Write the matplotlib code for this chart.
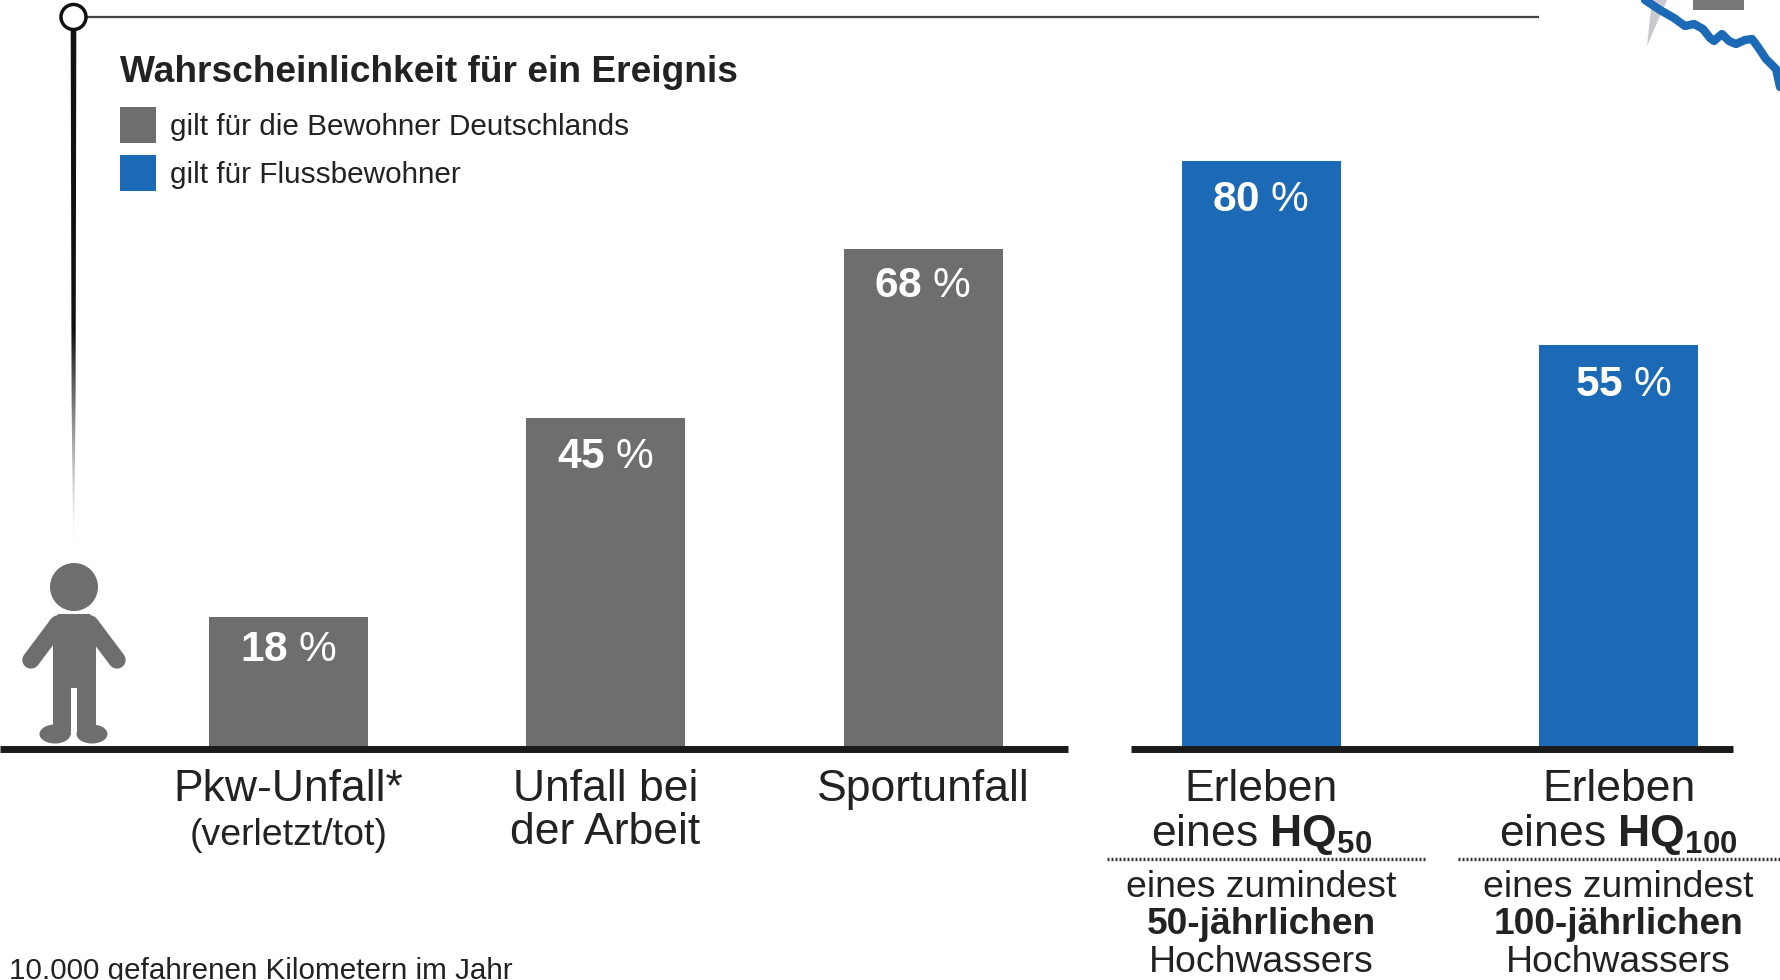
import numpy as np
import matplotlib
matplotlib.use('Agg')
import matplotlib.pyplot as plt
from matplotlib.patches import Circle, Ellipse, Polygon, Rectangle

plt.rcParams['font.family'] = ['Liberation Sans', 'DejaVu Sans']
plt.rcParams['mathtext.fontset'] = 'custom'
plt.rcParams['mathtext.rm'] = 'Liberation Sans'
plt.rcParams['mathtext.bf'] = 'Liberation Sans:bold'
plt.rcParams['mathtext.default'] = 'regular'

# Werte
werte_land = [18, 45, 68]
werte_fluss = [80, 55]
kategorien_land = ['Pkw-Unfall*', 'Unfall bei\nder Arbeit', 'Sportunfall']
kategorien_fluss = ['Erleben\neines $\\mathbf{HQ_{50}}$', 'Erleben\neines $\\mathbf{HQ_{100}}$']
titel = 'Wahrscheinlichkeit für ein Ereignis'
legende = ['gilt für die Bewohner Deutschlands', 'gilt für Flussbewohner']
zusatz = ['eines zumindest', 'Hochwassers']
jahre = ['50-jährlichen', '100-jährlichen']
fussnote = '10.000 gefahrenen Kilometern im Jahr'

GRAU = '#6e6e6e'
BLAU = '#1c6ab5'
SCHWARZ = '#1a1a1a'
TEXT = '#222222'
W, H = 1780, 980

fig = plt.figure(figsize=(W / 100, H / 100), dpi=100)

# Grundebene in Pixeln fuer Symbol, Linien und Texte
bg = fig.add_axes([0, 0, 1, 1], zorder=3)
bg.axis('off')

# Balken in Prozent
BASE = 749
PX_PRO_PROZENT = 7.35
ax = fig.add_axes([0, 1 - BASE / H, 1, BASE / H], zorder=2)
ax.set_xlim(0, W)
ax.set_ylim(0, BASE / PX_PRO_PROZENT)
ax.axis('off')

x_land = [288.5, 605.5, 923]
x_fluss = [1261.5, 1618.5]
BREITE = 159


def balken(xs, werte, farbe, versatz):
    ax.bar(xs, werte, width=BREITE, color=farbe)
    for x, v, (dx, dy) in zip(xs, werte, versatz):
        ax.annotate(f'$\\mathbf{{{v}}}$ %', (x, v), xytext=(dx, dy), textcoords='offset pixels',
                    ha='center', va='center', color='white', fontsize=30.5)


balken(x_land, werte_land, GRAU, [(0, -33), (0, -39), (0, -37)])
balken(x_fluss, werte_fluss, BLAU, [(-1, -39), (5, -40)])

# Stange: schmaler werdender Keil mit Verlauf nach unten
verlauf = np.zeros((256, 1, 4))
verlauf[:, 0, :3] = 0.07
verlauf[:, 0, 3] = np.clip((1 - np.linspace(0, 1, 256)) / 0.42, 0, 1) ** 1.4
stange = bg.imshow(verlauf, extent=[70, 77, 552, 30], aspect='auto', zorder=1)
stange.set_clip_path(Polygon([(70.7, 30), (76.3, 30), (75.6, 400), (74.0, 552), (73.2, 552), (71.6, 400)],
                             closed=True, transform=bg.transData))

bg.set_xlim(0, W)
bg.set_ylim(H, 0)

# Grundlinien
bg.plot([0, 1068], [749, 749], color=SCHWARZ, lw=5, solid_capstyle='butt')
bg.plot([1131, 1733], [749, 749], color=SCHWARZ, lw=5, solid_capstyle='butt')

# Obere Linie mit Ring
bg.plot([80, 1539], [17, 17], color='#444444', lw=1.6, solid_capstyle='butt')
bg.add_patch(Circle((73.5, 17), 12.5, fc='white', ec='#111111', lw=2.5, zorder=3))

# Person
bg.add_patch(Circle((74, 587), 24, fc=GRAU, ec='none'))
bg.add_patch(Polygon([(58, 614), (90, 614), (96, 622), (96, 735), (77, 735), (77, 688), (71, 688),
                      (71, 735), (53, 735), (53, 622)], closed=True, fc=GRAU, ec='none'))
bg.plot([58, 31], [624, 660], color=GRAU, lw=12.5, solid_capstyle='round')
bg.plot([90, 117], [624, 660], color=GRAU, lw=12.5, solid_capstyle='round')
bg.add_patch(Ellipse((55, 734), 31, 19, fc=GRAU, ec='none'))
bg.add_patch(Ellipse((92, 734), 31, 19, fc=GRAU, ec='none'))

# Karte oben rechts
bg.add_patch(Polygon([(1652, 0), (1667, 0), (1647, 46)], closed=True, fc='#c9c9cf', ec='none'))
bg.add_patch(Rectangle((1693, 0), 51, 10, fc='#777777', ec='none'))
fluss_x = [1645, 1660, 1674, 1685, 1694, 1703, 1710, 1714, 1722, 1729, 1736, 1745, 1752, 1758, 1766, 1776, 1780]
fluss_y = [0, 10, 18, 26, 24, 29, 38, 41, 34, 41, 44, 40, 39, 47, 59, 69, 87]
bg.plot(fluss_x, fluss_y, color=BLAU, lw=6, solid_joinstyle='round', solid_capstyle='round')

# Legende
bg.text(120, 72, titel, fontsize=26.7, fontweight='bold', color=TEXT, va='center')
for y, farbe, txt in zip([107, 155], [GRAU, BLAU], legende):
    bg.add_patch(Rectangle((120, y), 36, 36, fc=farbe, ec='none'))
    bg.text(170, y + 20, txt, fontsize=21.4, color=TEXT, va='center')

# Kategorien
for x, txt in zip(x_land, kategorien_land):
    bg.text(x, 769, txt, fontsize=32, color=TEXT, ha='center', va='top', linespacing=1.05)
bg.text(289, 835, '(verletzt/tot)', fontsize=26.9, color=TEXT, ha='center', va='center')
for x, txt, jahr in zip(x_fluss, kategorien_fluss, jahre):
    bg.text(x, 769, txt, fontsize=32, color=TEXT, ha='center', va='top', linespacing=1.05)
    bg.text(x, 887, zusatz[0], fontsize=26.9, color=TEXT, ha='center', va='center')
    bg.text(x, 924, jahr, fontsize=26.7, fontweight='bold', color=TEXT, ha='center', va='center')
    bg.text(x, 962, zusatz[1], fontsize=26.9, color=TEXT, ha='center', va='center')
bg.plot([1107, 1427], [859, 859], color='#333333', lw=2.4, ls=(0, (0.6, 0.6)))
bg.plot([1458, 1780], [859, 859], color='#333333', lw=2.4, ls=(0, (0.6, 0.6)))

bg.text(9, 971, fussnote, fontsize=21.35, color=TEXT, va='center')

fig.savefig('out.png', dpi=100)
